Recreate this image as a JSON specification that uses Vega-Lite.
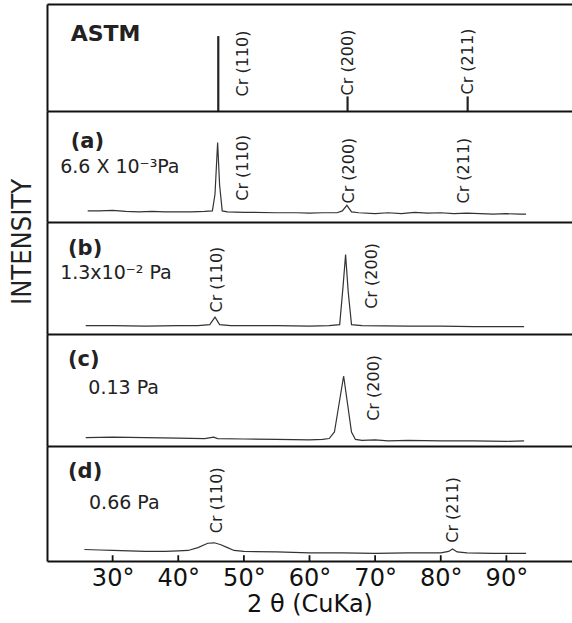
{
  "$schema": "https://vega.github.io/schema/vega-lite/v6.json",
  "background": "white",
  "padding": {"left": 8, "top": 4, "right": 0, "bottom": 0},
  "spacing": 0,
  "bounds": "flush",
  "title": {
    "text": "INTENSITY",
    "orient": "left",
    "anchor": "middle",
    "font": "Liberation Sans Narrow, DejaVu Sans Condensed, sans-serif",
    "fontSize": 27,
    "fontWeight": "normal",
    "color": "#222",
    "offset": 10,
    "dx": 68
  },
  "datasets": {
    "spectra": [
      {"p": "a", "t": 26.2, "v": 12}, {"p": "a", "t": 28, "v": 12}, {"p": "a", "t": 30, "v": 12.5}, {"p": "a", "t": 32, "v": 11.5}, {"p": "a", "t": 34, "v": 11}, {"p": "a", "t": 36, "v": 11.5}, {"p": "a", "t": 38, "v": 11}, {"p": "a", "t": 40, "v": 11}, {"p": "a", "t": 42, "v": 11}, {"p": "a", "t": 44, "v": 11.5}, {"p": "a", "t": 45.2, "v": 12}, {"p": "a", "t": 45.6, "v": 30}, {"p": "a", "t": 46.0, "v": 86}, {"p": "a", "t": 46.3, "v": 40}, {"p": "a", "t": 46.7, "v": 12}, {"p": "a", "t": 47.5, "v": 11}, {"p": "a", "t": 50, "v": 10.5}, {"p": "a", "t": 55, "v": 10}, {"p": "a", "t": 58, "v": 10}, {"p": "a", "t": 60, "v": 9.5}, {"p": "a", "t": 62, "v": 10}, {"p": "a", "t": 64.2, "v": 10}, {"p": "a", "t": 65.0, "v": 12}, {"p": "a", "t": 65.7, "v": 18}, {"p": "a", "t": 66.4, "v": 11}, {"p": "a", "t": 67.5, "v": 10}, {"p": "a", "t": 70, "v": 9}, {"p": "a", "t": 72, "v": 10}, {"p": "a", "t": 74, "v": 9}, {"p": "a", "t": 76, "v": 10.5}, {"p": "a", "t": 78, "v": 9.5}, {"p": "a", "t": 80, "v": 10}, {"p": "a", "t": 82, "v": 9}, {"p": "a", "t": 84, "v": 9.5}, {"p": "a", "t": 86, "v": 9}, {"p": "a", "t": 88, "v": 8.5}, {"p": "a", "t": 90, "v": 9}, {"p": "a", "t": 92, "v": 8.5}, {"p": "a", "t": 93, "v": 8.5},
      {"p": "b", "t": 25.9, "v": 9}, {"p": "b", "t": 30, "v": 9}, {"p": "b", "t": 35, "v": 8.5}, {"p": "b", "t": 40, "v": 9}, {"p": "b", "t": 43, "v": 9}, {"p": "b", "t": 44.8, "v": 10}, {"p": "b", "t": 45.6, "v": 18}, {"p": "b", "t": 46.3, "v": 10}, {"p": "b", "t": 48, "v": 9}, {"p": "b", "t": 55, "v": 9}, {"p": "b", "t": 60, "v": 8.5}, {"p": "b", "t": 63, "v": 9}, {"p": "b", "t": 64.6, "v": 10}, {"p": "b", "t": 65.1, "v": 50}, {"p": "b", "t": 65.5, "v": 85}, {"p": "b", "t": 65.9, "v": 45}, {"p": "b", "t": 66.4, "v": 10}, {"p": "b", "t": 68, "v": 9}, {"p": "b", "t": 75, "v": 8.5}, {"p": "b", "t": 80, "v": 8.5}, {"p": "b", "t": 85, "v": 8}, {"p": "b", "t": 90, "v": 8}, {"p": "b", "t": 92.7, "v": 8},
      {"p": "c", "t": 25.9, "v": 9}, {"p": "c", "t": 30, "v": 9.5}, {"p": "c", "t": 35, "v": 9}, {"p": "c", "t": 40, "v": 8.5}, {"p": "c", "t": 44, "v": 8}, {"p": "c", "t": 45.4, "v": 9.5}, {"p": "c", "t": 46, "v": 8}, {"p": "c", "t": 50, "v": 7.5}, {"p": "c", "t": 55, "v": 7}, {"p": "c", "t": 60, "v": 6.5}, {"p": "c", "t": 62, "v": 7}, {"p": "c", "t": 63, "v": 8}, {"p": "c", "t": 63.8, "v": 15}, {"p": "c", "t": 64.5, "v": 45}, {"p": "c", "t": 65.2, "v": 75}, {"p": "c", "t": 65.8, "v": 45}, {"p": "c", "t": 66.4, "v": 15}, {"p": "c", "t": 67, "v": 7}, {"p": "c", "t": 68, "v": 6}, {"p": "c", "t": 70, "v": 6.5}, {"p": "c", "t": 72, "v": 5.5}, {"p": "c", "t": 75, "v": 6}, {"p": "c", "t": 80, "v": 5.5}, {"p": "c", "t": 85, "v": 5.5}, {"p": "c", "t": 90, "v": 5}, {"p": "c", "t": 92.7, "v": 5.5},
      {"p": "d", "t": 25.7, "v": 12}, {"p": "d", "t": 28, "v": 11.5}, {"p": "d", "t": 30, "v": 11}, {"p": "d", "t": 35, "v": 10}, {"p": "d", "t": 38, "v": 10}, {"p": "d", "t": 40, "v": 10.5}, {"p": "d", "t": 41.5, "v": 11}, {"p": "d", "t": 43, "v": 14}, {"p": "d", "t": 44.5, "v": 18.5}, {"p": "d", "t": 45.5, "v": 19}, {"p": "d", "t": 46.5, "v": 17}, {"p": "d", "t": 47.5, "v": 14}, {"p": "d", "t": 48.5, "v": 11}, {"p": "d", "t": 50, "v": 10}, {"p": "d", "t": 55, "v": 9.5}, {"p": "d", "t": 60, "v": 8.5}, {"p": "d", "t": 65, "v": 8.5}, {"p": "d", "t": 70, "v": 8}, {"p": "d", "t": 75, "v": 8.5}, {"p": "d", "t": 80, "v": 8.5}, {"p": "d", "t": 81.2, "v": 10}, {"p": "d", "t": 81.8, "v": 12.5}, {"p": "d", "t": 82.5, "v": 9.5}, {"p": "d", "t": 84, "v": 8.5}, {"p": "d", "t": 88, "v": 8}, {"p": "d", "t": 93, "v": 8}
    ],
    "sticks": [
      {"t": 46.1, "v": 77}, {"t": 65.8, "v": 15}, {"t": 84.1, "v": 15}
    ],
    "ticks": [
      {"t": 30}, {"t": 40}, {"t": 50}, {"t": 60}, {"t": 70}, {"t": 80}, {"t": 90}
    ],
    "peaks": [
      {"p": "astm", "t": 49.9, "v": 15, "label": "Cr (110)"},
      {"p": "astm", "t": 65.8, "v": 16, "label": "Cr (200)"},
      {"p": "astm", "t": 84.1, "v": 17, "label": "Cr (211)"},
      {"p": "a", "t": 49.8, "v": 23, "label": "Cr (110)"},
      {"p": "a", "t": 66.0, "v": 20, "label": "Cr (200)"},
      {"p": "a", "t": 83.6, "v": 20, "label": "Cr (211)"},
      {"p": "b", "t": 45.9, "v": 23, "label": "Cr (110)"},
      {"p": "b", "t": 69.5, "v": 27, "label": "Cr (200)"},
      {"p": "c", "t": 69.8, "v": 27, "label": "Cr (200)"},
      {"p": "d", "t": 45.9, "v": 29, "label": "Cr (110)"},
      {"p": "d", "t": 81.9, "v": 19, "label": "Cr (211)"}
    ],
    "tags": [
      {"p": "astm", "t": 23.6, "v": 79, "label": "ASTM"},
      {"p": "a", "t": 23.6, "v": 86, "label": "(a)"},
      {"p": "b", "t": 23.2, "v": 91, "label": "(b)"},
      {"p": "c", "t": 23.2, "v": 92, "label": "(c)"},
      {"p": "d", "t": 23.2, "v": 93, "label": "(d)"}
    ],
    "notes": [
      {"p": "a", "t": 22.0, "v": 60, "label": "6.6 X 10⁻³Pa"},
      {"p": "b", "t": 22.0, "v": 65, "label": "1.3x10⁻² Pa"},
      {"p": "c", "t": 26.3, "v": 62, "label": "0.13 Pa"},
      {"p": "d", "t": 26.4, "v": 61, "label": "0.66 Pa"}
    ]
  },
  "config": {
    "view": {"stroke": null},
    "axis": {"domainColor": "#111", "domainWidth": 2, "ticks": false, "labels": false, "grid": false},
    "text": {"color": "#222"}
  },
  "vconcat": [
    {
      "width": 525, "height": 107,
      "resolve": {"axis": {"x": "independent"}},
      "layer": [
        {
          "data": {"name": "sticks"},
          "mark": {"type": "rule", "color": "#222", "strokeWidth": 2.2},
          "encoding": {
            "x": {"field": "t", "type": "quantitative", "scale": {"domain": [20.47, 95.12]}, "axis": {"orient": "top", "title": null}},
            "y": {"field": "v", "type": "quantitative", "scale": {"domain": [0, 107]}, "axis": {"orient": "left", "title": null}},
            "y2": {"datum": 0}
          }
        },
        {
          "data": {"name": "peaks"},
          "transform": [{"filter": "datum.p === 'astm'"}],
          "mark": {"type": "text", "angle": 270, "align": "left", "baseline": "middle", "font": "DejaVu Sans", "fontSize": 16},
          "encoding": {
            "x": {"field": "t", "type": "quantitative", "axis": {"orient": "bottom", "title": null}},
            "y": {"field": "v", "type": "quantitative"},
            "text": {"field": "label"}
          }
        },
        {
          "data": {"name": "tags"},
          "transform": [{"filter": "datum.p === 'astm'"}],
          "mark": {"type": "text", "align": "left", "baseline": "middle", "font": "DejaVu Sans", "fontSize": 22, "fontWeight": "bold"},
          "encoding": {
            "x": {"field": "t", "type": "quantitative", "axis": null},
            "y": {"field": "v", "type": "quantitative"},
            "text": {"field": "label"}
          }
        }
      ]
    },
    {
      "width": 525, "height": 111,
      "layer": [
        {
          "data": {"name": "spectra"},
          "transform": [{"filter": "datum.p === 'a'"}],
          "mark": {"type": "line", "color": "#333", "strokeWidth": 1.2},
          "encoding": {
            "x": {"field": "t", "type": "quantitative", "scale": {"domain": [20.47, 95.12]}, "axis": {"orient": "bottom", "title": null}},
            "y": {"field": "v", "type": "quantitative", "scale": {"domain": [0, 111]}, "axis": {"orient": "left", "title": null}}
          }
        },
        {
          "data": {"name": "peaks"},
          "transform": [{"filter": "datum.p === 'a'"}],
          "mark": {"type": "text", "angle": 270, "align": "left", "baseline": "middle", "font": "DejaVu Sans", "fontSize": 16},
          "encoding": {"x": {"field": "t", "type": "quantitative"}, "y": {"field": "v", "type": "quantitative"}, "text": {"field": "label"}}
        },
        {
          "data": {"name": "tags"},
          "transform": [{"filter": "datum.p === 'a'"}],
          "mark": {"type": "text", "align": "left", "baseline": "middle", "font": "DejaVu Sans", "fontSize": 21, "fontWeight": "bold"},
          "encoding": {"x": {"field": "t", "type": "quantitative"}, "y": {"field": "v", "type": "quantitative"}, "text": {"field": "label"}}
        },
        {
          "data": {"name": "notes"},
          "transform": [{"filter": "datum.p === 'a'"}],
          "mark": {"type": "text", "align": "left", "baseline": "middle", "font": "DejaVu Sans", "fontSize": 19},
          "encoding": {"x": {"field": "t", "type": "quantitative"}, "y": {"field": "v", "type": "quantitative"}, "text": {"field": "label"}}
        }
      ]
    },
    {
      "width": 525, "height": 112,
      "layer": [
        {
          "data": {"name": "spectra"},
          "transform": [{"filter": "datum.p === 'b'"}],
          "mark": {"type": "line", "color": "#333", "strokeWidth": 1.2},
          "encoding": {
            "x": {"field": "t", "type": "quantitative", "scale": {"domain": [20.47, 95.12]}, "axis": {"orient": "bottom", "title": null}},
            "y": {"field": "v", "type": "quantitative", "scale": {"domain": [0, 112]}, "axis": {"orient": "left", "title": null}}
          }
        },
        {
          "data": {"name": "peaks"},
          "transform": [{"filter": "datum.p === 'b'"}],
          "mark": {"type": "text", "angle": 270, "align": "left", "baseline": "middle", "font": "DejaVu Sans", "fontSize": 16},
          "encoding": {"x": {"field": "t", "type": "quantitative"}, "y": {"field": "v", "type": "quantitative"}, "text": {"field": "label"}}
        },
        {
          "data": {"name": "tags"},
          "transform": [{"filter": "datum.p === 'b'"}],
          "mark": {"type": "text", "align": "left", "baseline": "middle", "font": "DejaVu Sans", "fontSize": 21, "fontWeight": "bold"},
          "encoding": {"x": {"field": "t", "type": "quantitative"}, "y": {"field": "v", "type": "quantitative"}, "text": {"field": "label"}}
        },
        {
          "data": {"name": "notes"},
          "transform": [{"filter": "datum.p === 'b'"}],
          "mark": {"type": "text", "align": "left", "baseline": "middle", "font": "DejaVu Sans", "fontSize": 19},
          "encoding": {"x": {"field": "t", "type": "quantitative"}, "y": {"field": "v", "type": "quantitative"}, "text": {"field": "label"}}
        }
      ]
    },
    {
      "width": 525, "height": 112,
      "layer": [
        {
          "data": {"name": "spectra"},
          "transform": [{"filter": "datum.p === 'c'"}],
          "mark": {"type": "line", "color": "#333", "strokeWidth": 1.2},
          "encoding": {
            "x": {"field": "t", "type": "quantitative", "scale": {"domain": [20.47, 95.12]}, "axis": {"orient": "bottom", "title": null}},
            "y": {"field": "v", "type": "quantitative", "scale": {"domain": [0, 112]}, "axis": {"orient": "left", "title": null}}
          }
        },
        {
          "data": {"name": "peaks"},
          "transform": [{"filter": "datum.p === 'c'"}],
          "mark": {"type": "text", "angle": 270, "align": "left", "baseline": "middle", "font": "DejaVu Sans", "fontSize": 16},
          "encoding": {"x": {"field": "t", "type": "quantitative"}, "y": {"field": "v", "type": "quantitative"}, "text": {"field": "label"}}
        },
        {
          "data": {"name": "tags"},
          "transform": [{"filter": "datum.p === 'c'"}],
          "mark": {"type": "text", "align": "left", "baseline": "middle", "font": "DejaVu Sans", "fontSize": 21, "fontWeight": "bold"},
          "encoding": {"x": {"field": "t", "type": "quantitative"}, "y": {"field": "v", "type": "quantitative"}, "text": {"field": "label"}}
        },
        {
          "data": {"name": "notes"},
          "transform": [{"filter": "datum.p === 'c'"}],
          "mark": {"type": "text", "align": "left", "baseline": "middle", "font": "DejaVu Sans", "fontSize": 19},
          "encoding": {"x": {"field": "t", "type": "quantitative"}, "y": {"field": "v", "type": "quantitative"}, "text": {"field": "label"}}
        }
      ]
    },
    {
      "width": 525, "height": 115,
      "layer": [
        {
          "data": {"name": "spectra"},
          "transform": [{"filter": "datum.p === 'd'"}],
          "mark": {"type": "line", "color": "#333", "strokeWidth": 1.2},
          "encoding": {
            "x": {"field": "t", "type": "quantitative", "scale": {"domain": [20.47, 95.12]},
              "axis": {"orient": "bottom", "title": "2 θ  (CuKa)", "values": [30, 40, 50, 60, 70, 80, 90], "labelExpr": "datum.value + '°'",
                "ticks": false,
                "labels": true, "labelFont": "DejaVu Sans", "labelFontSize": 24, "labelColor": "#111", "labelPadding": 5, "labelFlush": false,
                "titleFont": "DejaVu Sans", "titleFontSize": 24, "titleFontWeight": "normal", "titleColor": "#111", "titlePadding": 2}},
            "y": {"field": "v", "type": "quantitative", "scale": {"domain": [0, 115]}, "axis": {"orient": "left", "title": null}}
          }
        },
        {
          "data": {"name": "ticks"},
          "mark": {"type": "rule", "color": "#111", "strokeWidth": 1.8},
          "encoding": {
            "x": {"field": "t", "type": "quantitative"},
            "y": {"datum": 6},
            "y2": {"datum": 0}
          }
        },
        {
          "data": {"name": "peaks"},
          "transform": [{"filter": "datum.p === 'd'"}],
          "mark": {"type": "text", "angle": 270, "align": "left", "baseline": "middle", "font": "DejaVu Sans", "fontSize": 16},
          "encoding": {"x": {"field": "t", "type": "quantitative"}, "y": {"field": "v", "type": "quantitative"}, "text": {"field": "label"}}
        },
        {
          "data": {"name": "tags"},
          "transform": [{"filter": "datum.p === 'd'"}],
          "mark": {"type": "text", "align": "left", "baseline": "middle", "font": "DejaVu Sans", "fontSize": 21, "fontWeight": "bold"},
          "encoding": {"x": {"field": "t", "type": "quantitative"}, "y": {"field": "v", "type": "quantitative"}, "text": {"field": "label"}}
        },
        {
          "data": {"name": "notes"},
          "transform": [{"filter": "datum.p === 'd'"}],
          "mark": {"type": "text", "align": "left", "baseline": "middle", "font": "DejaVu Sans", "fontSize": 19},
          "encoding": {"x": {"field": "t", "type": "quantitative"}, "y": {"field": "v", "type": "quantitative"}, "text": {"field": "label"}}
        }
      ]
    }
  ]
}
